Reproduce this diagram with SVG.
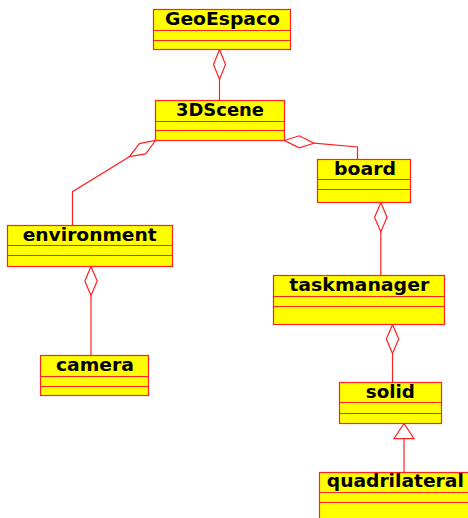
<svg xmlns="http://www.w3.org/2000/svg" width="468" height="518" viewBox="0 0 468 518">
<style>
.box{fill:#ffff00;stroke:#ff2020;stroke-width:1.2}
.sep{stroke:#ff2020;stroke-width:1.2}
.lbl{font-family:"DejaVu Sans",sans-serif;font-weight:bold;font-size:17px;fill:#000;text-anchor:middle}
.con{fill:none;stroke:#ff2020;stroke-width:1.2}
.dia{fill:#ffffff;stroke:#ff2020;stroke-width:1.2}
</style>
<rect width="468" height="518" fill="#ffffff"/>
<g id="connectors">
<line class="con" x1="219.5" y1="79.5" x2="219.5" y2="100.5"/>
<polygon class="dia" points="219.5,49.5 225.5,64.5 219.5,79.5 213.5,64.5"/>
<polyline class="con" points="129.4,156.7 72.5,191.7 72.5,225.5"/>
<polygon class="dia" points="155.5,140.5 145.6,153.9 129.4,156.7 139.4,143.6"/>
<polyline class="con" points="313.9,143.2 357.5,147 357.5,159.5"/>
<polygon class="dia" points="284.5,140.5 299.2,135.8 313.9,143.2 299.2,147.8"/>
<line class="con" x1="380.8" y1="232" x2="380.8" y2="275.5"/>
<polygon class="dia" points="380.8,202.5 387,217.2 380.8,232 374.6,217.2"/>
<line class="con" x1="91" y1="295.5" x2="91" y2="355.5"/>
<polygon class="dia" points="91,266.5 97.2,281 91,295.5 84.8,281"/>
<line class="con" x1="392.5" y1="353.5" x2="392.5" y2="382.5"/>
<polygon class="dia" points="392.5,324.5 398.7,339 392.5,353.5 386.3,339"/>
<line class="con" x1="404" y1="438.7" x2="404" y2="472.5"/>
<polygon class="dia" points="404,423.5 414,438.7 394,438.7"/>
</g>
<g id="GeoEspaco">
<rect class="box" x="153.5" y="9.5" width="137" height="40"/>
<line class="sep" x1="153.5" y1="30.5" x2="290.5" y2="30.5"/>
<line class="sep" x1="153.5" y1="40.5" x2="290.5" y2="40.5"/>
<text class="lbl" x="222.5" y="24.5" textLength="115" lengthAdjust="spacingAndGlyphs">GeoEspaco</text>
</g>
<g id="3DScene">
<rect class="box" x="155.5" y="100.5" width="129" height="40"/>
<line class="sep" x1="155.5" y1="121.5" x2="284.5" y2="121.5"/>
<line class="sep" x1="155.5" y1="130.5" x2="284.5" y2="130.5"/>
<text class="lbl" x="220" y="115.5" textLength="88" lengthAdjust="spacingAndGlyphs">3DScene</text>
</g>
<g id="environment">
<rect class="box" x="7.5" y="225.5" width="165" height="41"/>
<line class="sep" x1="7.5" y1="245.5" x2="172.5" y2="245.5"/>
<line class="sep" x1="7.5" y1="255.5" x2="172.5" y2="255.5"/>
<text class="lbl" x="89.7" y="240.5" textLength="134" lengthAdjust="spacingAndGlyphs">environment</text>
</g>
<g id="board">
<rect class="box" x="317.5" y="159.5" width="93" height="43"/>
<line class="sep" x1="317.5" y1="179.5" x2="410.5" y2="179.5"/>
<line class="sep" x1="317.5" y1="189.5" x2="410.5" y2="189.5"/>
<text class="lbl" x="365" y="174.5" textLength="62" lengthAdjust="spacingAndGlyphs">board</text>
</g>
<g id="taskmanager">
<rect class="box" x="273.5" y="275.5" width="171" height="49"/>
<line class="sep" x1="273.5" y1="296.5" x2="444.5" y2="296.5"/>
<line class="sep" x1="273.5" y1="306.5" x2="444.5" y2="306.5"/>
<text class="lbl" x="359.3" y="290.7" textLength="140" lengthAdjust="spacingAndGlyphs">taskmanager</text>
</g>
<g id="camera">
<rect class="box" x="40.5" y="355.5" width="108" height="40"/>
<line class="sep" x1="40.5" y1="376.5" x2="148.5" y2="376.5"/>
<line class="sep" x1="40.5" y1="386.5" x2="148.5" y2="386.5"/>
<text class="lbl" x="95" y="370.7" textLength="78" lengthAdjust="spacingAndGlyphs">camera</text>
</g>
<g id="solid">
<rect class="box" x="339.5" y="382.5" width="102" height="41"/>
<line class="sep" x1="339.5" y1="402.5" x2="441.5" y2="402.5"/>
<line class="sep" x1="339.5" y1="413.5" x2="441.5" y2="413.5"/>
<text class="lbl" x="390.3" y="397.7" textLength="49" lengthAdjust="spacingAndGlyphs">solid</text>
</g>
<g id="quadrilateral">
<rect class="box" x="319.5" y="472.5" width="152" height="60"/>
<line class="sep" x1="319.5" y1="492.5" x2="471.5" y2="492.5"/>
<line class="sep" x1="319.5" y1="502.5" x2="471.5" y2="502.5"/>
<text class="lbl" x="395.3" y="486.7" textLength="137" lengthAdjust="spacingAndGlyphs">quadrilateral</text>
</g>
</svg>
